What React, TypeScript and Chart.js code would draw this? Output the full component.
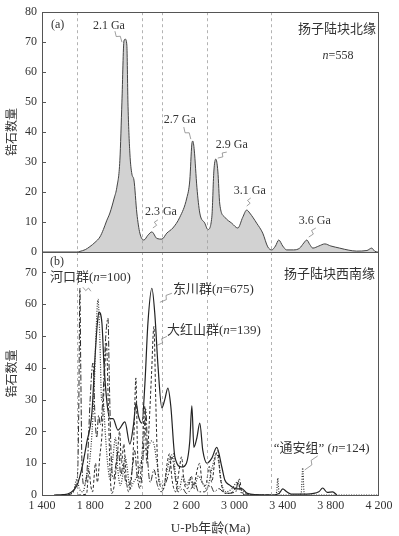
import React, { useEffect, useRef } from 'react';
import { Chart, registerables } from 'chart.js';

Chart.register(...registerables);

const W = 399;
const H = 536;
const SERIF = '"Liberation Serif", "Noto Sans CJK SC", serif';
const TEXT = '#333';

// ---- axes ----
const X_MIN = 1400;
const X_MAX = 4200;
const X_STEP = 400;
const TOP_Y_MAX = 80;
const BOT_Y_MAX = 76.4;
const Y_STEP = 10;
const GUIDE_AGES = [1690, 2230, 2400, 2770, 3300];

// ---- (a) 扬子陆块北缘, n=558  [age Ma, count] ----
const northMargin: [number, number][] = [
  [1400, 0], [1690, 0], [1715, 0.2], [1760, 0.8], [1798, 1.8], [1840, 3.2], [1881, 5],
  [1910, 7.5], [1937, 10.4], [1964, 13], [2000, 18], [2022, 21.6], [2047, 30.6], [2064, 50],
  [2081, 70.4], [2092, 71], [2105, 69], [2114, 50], [2130, 33], [2147, 26], [2164, 24],
  [2188, 13], [2213, 6.3], [2247, 4], [2280, 5.6], [2313, 6.7], [2355, 4.5], [2396, 4.3],
  [2437, 6.3], [2487, 8], [2545, 11.6], [2603, 18], [2628, 24], [2645, 36], [2653, 37],
  [2665, 34], [2687, 21.6], [2711, 13], [2753, 9.6], [2778, 7.5], [2811, 11.6], [2828, 27],
  [2844, 31], [2861, 27], [2877, 16], [2919, 11.6], [2977, 9.6], [3027, 8], [3068, 11.6],
  [3101, 14], [3126, 13], [3184, 9.6], [3234, 6.3], [3276, 1.7], [3309, 0.7], [3340, 2],
  [3367, 4], [3400, 2], [3433, 0.7], [3490, 0.7], [3541, 1.3], [3575, 3], [3600, 4],
  [3625, 2.5], [3650, 1.3], [3700, 2], [3750, 2.7], [3800, 2], [3873, 1.3], [3950, 0.6],
  [4014, 0.3], [4100, 0.5], [4139, 1.3], [4164, 0.3], [4189, 0], [4200, 0],
];

// ---- (b) 扬子陆块西南缘 ----
const dongchuan: [number, number][] = [
  [1500, 0], [1574, 0.1], [1632, 0.6], [1690, 3], [1732, 8.5], [1773, 16.7], [1815, 26],
  [1840, 43], [1860, 54], [1873, 57.5], [1898, 54], [1915, 41], [1940, 29], [1964, 24],
  [1990, 24], [2031, 20.4], [2089, 23], [2130, 16], [2160, 22], [2182, 29], [2200, 25],
  [2230, 22.6], [2255, 35], [2280, 54], [2313, 65], [2338, 56.6], [2363, 41], [2396, 27.4],
  [2420, 30], [2446, 33.6], [2470, 28], [2504, 12], [2562, 8.8], [2600, 10], [2628, 17],
  [2645, 28], [2662, 15], [2687, 18], [2711, 22.6], [2736, 14], [2770, 10], [2811, 11.6],
  [2852, 15], [2894, 8.8], [2919, 4.7], [2960, 3.1], [3019, 1.9], [3060, 2], [3101, 0.6],
  [3184, 0.1], [3300, 0], [3370, 0.5], [3400, 1.9], [3433, 1], [3470, 0.3], [3600, 0.3],
  [3700, 1], [3732, 2.2], [3770, 0.8], [3815, 1], [3850, 0],
];

const hekou: [number, number][] = [
  [1600, 0], [1650, 0.5], [1680, 3], [1695, 6], [1705, 25], [1715, 65], [1722, 40],
  [1732, 10], [1750, 3], [1775, 8], [1800, 30], [1823, 41.5], [1840, 25], [1855, 18],
  [1870, 25], [1885, 22], [1905, 30], [1930, 50], [1948, 55.6], [1960, 35], [1975, 12],
  [1995, 5], [2015, 10], [2035, 14], [2055, 6], [2075, 10], [2095, 4], [2120, 3],
  [2150, 8], [2170, 14], [2190, 6], [2215, 2], [2240, 12], [2262, 27], [2280, 10],
  [2300, 4], [2330, 8], [2360, 3], [2390, 1], [2430, 4], [2460, 8], [2480, 12], [2505, 6],
  [2530, 1], [2570, 2], [2600, 0.5], [2640, 2], [2670, 4], [2700, 1], [2750, 1], [2800, 3],
  [2830, 1], [2870, 2], [2920, 0.5], [3010, 1], [3030, 4.5], [3050, 1], [3100, 0], [3300, 0],
];

const dahongshan: [number, number][] = [
  [1700, 0], [1770, 0.3], [1790, 8], [1805, 3], [1820, 1], [1845, 10], [1860, 4], [1880, 12],
  [1900, 20], [1920, 38], [1935, 48], [1950, 30], [1965, 8], [1980, 0.5], [2000, 3],
  [2025, 12], [2045, 20], [2060, 10], [2080, 16], [2100, 5], [2120, 1], [2145, 6],
  [2165, 20], [2180, 36.8], [2193, 15], [2210, 4], [2230, 12], [2255, 28], [2270, 10],
  [2290, 22], [2310, 38], [2330, 53], [2345, 30], [2360, 10], [2380, 3], [2410, 2],
  [2440, 10], [2460, 13], [2480, 5], [2510, 1], [2540, 8], [2560, 12], [2580, 4], [2610, 2],
  [2640, 6], [2660, 3], [2690, 8], [2710, 10], [2730, 4], [2760, 3], [2790, 9], [2810, 4],
  [2840, 12], [2860, 14], [2880, 6], [2910, 1], [2960, 0.5], [3020, 3], [3040, 5],
  [3060, 1], [3100, 0], [3300, 0],
];

const tongan: [number, number][] = [
  [1600, 0], [1660, 1], [1690, 5], [1710, 2], [1740, 1], [1770, 6], [1800, 12], [1830, 30],
  [1850, 52], [1865, 61.5], [1880, 50], [1895, 30], [1910, 29], [1925, 20], [1945, 10],
  [1965, 5], [1990, 12], [2010, 18], [2030, 8], [2050, 3], [2070, 6], [2090, 12],
  [2110, 8], [2130, 2], [2160, 4], [2190, 6], [2220, 10], [2250, 14], [2280, 15],
  [2310, 17], [2330, 16], [2355, 10], [2380, 4], [2410, 3], [2440, 8], [2470, 12],
  [2490, 13], [2510, 6], [2540, 2], [2570, 6], [2600, 3], [2630, 5], [2660, 2], [2700, 6],
  [2730, 4], [2770, 2], [2810, 8], [2850, 13], [2870, 10], [2890, 4], [2930, 1], [2980, 2],
  [3020, 4], [3050, 2], [3100, 0.5], [3200, 0], [3330, 0], [3350, 1], [3359, 5.3],
  [3368, 1], [3380, 0], [3540, 0], [3555, 1], [3566, 8.5], [3577, 1], [3590, 0], [4200, 0],
];

type Seg = { t: string; it?: boolean };
type Note = {
  segs: Seg[];
  at: [number, number]; // data anchor
  text: [number, number]; // text offset from anchor (px)
  align: CanvasTextAlign;
  lead?: [number, number, number, number]; // leader start/end offsets from anchor
};

const topNotes: Note[] = [
  { segs: [{ t: '2.1 Ga' }], at: [2089, 71], text: [-16, -13], align: 'center', lead: [-10, -8, -3, 3] },
  { segs: [{ t: '2.3 Ga' }], at: [2313, 6.7], text: [9, -20], align: 'center', lead: [6, -12, 1, -4] },
  { segs: [{ t: '2.7 Ga' }], at: [2653, 37], text: [-13, -21], align: 'center', lead: [-9, -14, -2, -2] },
  { segs: [{ t: '2.9 Ga' }], at: [2844, 31], text: [16, -14], align: 'center', lead: [11, -7, 2, -1] },
  { segs: [{ t: '3.1 Ga' }], at: [3101, 14], text: [3, -19], align: 'center', lead: [4, -12, 0, -4] },
  { segs: [{ t: '3.6 Ga' }], at: [3600, 4], text: [8, -19], align: 'center', lead: [9, -12, 2, -3] },
];

const botNotes: Note[] = [
  { segs: [{ t: '河口群(' }, { t: 'n', it: true }, { t: '=100)' }], at: [1715, 65], text: [-30, -11], align: 'left', lead: [11, 3, 3, -1] },
  { segs: [{ t: '东川群(' }, { t: 'n', it: true }, { t: '=675)' }], at: [2313, 65], text: [21, 1], align: 'left', lead: [20, 5, 8, 14] },
  { segs: [{ t: '大红山群(' }, { t: 'n', it: true }, { t: '=139)' }], at: [2330, 53], text: [13, 4.5], align: 'left', lead: [13, 10, 3, 19] },
  { segs: [{ t: '“通安组” (' }, { t: 'n', it: true }, { t: '=124)' }], at: [3566, 8.5], text: [-29, -19], align: 'left', lead: [15, -12, 2, 2] },
];

function fmtThousands(v: number) {
  return String(v).replace(/\B(?=(\d{3})+(?!\d))/g, ' ');
}

function drawSegs(ctx: CanvasRenderingContext2D, segs: Seg[], x: number, y: number, align: CanvasTextAlign, size: number) {
  const fontOf = (s: Seg) => `${s.it ? 'italic ' : ''}${size}px ${SERIF}`;
  let total = 0;
  for (const s of segs) { ctx.font = fontOf(s); total += ctx.measureText(s.t).width; }
  let cx = align === 'center' ? x - total / 2 : align === 'right' ? x - total : x;
  ctx.textBaseline = 'middle';
  ctx.textAlign = 'left';
  ctx.fillStyle = TEXT;
  for (const s of segs) {
    ctx.font = fontOf(s);
    ctx.fillText(s.t, cx, y);
    cx += ctx.measureText(s.t).width;
  }
}

function squiggle(ctx: CanvasRenderingContext2D, x1: number, y1: number, x2: number, y2: number) {
  const dx = x2 - x1, dy = y2 - y1;
  const len = Math.hypot(dx, dy) || 1;
  const nx = -dy / len, ny = dx / len;
  ctx.beginPath();
  ctx.moveTo(x1, y1);
  ctx.lineTo(x1 + dx * 0.4 + nx * 1.8, y1 + dy * 0.4 + ny * 1.8);
  ctx.lineTo(x1 + dx * 0.55 - nx * 1.8, y1 + dy * 0.55 - ny * 1.8);
  ctx.lineTo(x2, y2);
  ctx.stroke();
}

function panelPlugin(kind: 'top' | 'bot') {
  return {
    id: 'panel-' + kind,
    afterDatasetsDraw(chart: any) {
      const { ctx, chartArea } = chart;
      const { left, right, top, bottom } = chartArea;
      const x = chart.scales.x;
      const y = chart.scales.y;
      ctx.save();
      // guide lines
      ctx.strokeStyle = '#a0a0a0';
      ctx.lineWidth = 0.8;
      ctx.setLineDash([3, 3]);
      for (const a of GUIDE_AGES) {
        const px = Math.round(x.getPixelForValue(a)) + 0.5;
        ctx.beginPath();
        ctx.moveTo(px, top);
        ctx.lineTo(px, bottom);
        ctx.stroke();
      }
      ctx.setLineDash([]);
      // frame
      ctx.strokeStyle = '#555';
      ctx.lineWidth = 1;
      ctx.strokeRect(Math.round(left) + 0.5, Math.round(top) + 0.5, Math.round(right - left) - 1, Math.round(bottom - top));
      // inward y ticks
      const ymax = kind === 'top' ? TOP_Y_MAX : BOT_Y_MAX;
      for (let v = Y_STEP; v < ymax; v += Y_STEP) {
        const py = Math.round(y.getPixelForValue(v)) + 0.5;
        ctx.beginPath();
        ctx.moveTo(left, py);
        ctx.lineTo(left + 4, py);
        ctx.stroke();
      }
      // notes
      const notes = kind === 'top' ? topNotes : botNotes;
      const size = kind === 'top' ? 12 : 13;
      ctx.strokeStyle = '#777';
      ctx.lineWidth = 0.7;
      for (const n of notes) {
        const ax = x.getPixelForValue(n.at[0]);
        const ay = y.getPixelForValue(n.at[1]);
        if (n.lead) squiggle(ctx, ax + n.lead[0], ay + n.lead[1], ax + n.lead[2], ay + n.lead[3]);
        drawSegs(ctx, n.segs, ax + n.text[0], ay + n.text[1], n.align, size);
      }
      // static labels
      if (kind === 'top') {
        drawSegs(ctx, [{ t: '(a)' }], left + 9, top + 13, 'left', 12);
        drawSegs(ctx, [{ t: '扬子陆块北缘' }], right - 3, top + 17, 'right', 13);
        drawSegs(ctx, [{ t: 'n', it: true }, { t: '=558' }], right - 41, top + 44, 'center', 12);
      } else {
        drawSegs(ctx, [{ t: '(b)' }], left + 8, top + 10, 'left', 12);
        drawSegs(ctx, [{ t: '扬子陆块西南缘' }], right - 4, top + 23, 'right', 13);
      }
      ctx.restore();
    },
  };
}

function lineDs(data: [number, number][], dash: number[], width: number, color: string) {
  return {
    data: data.map(([a, c]) => ({ x: a, y: c })),
    borderColor: color,
    borderWidth: width,
    borderDash: dash,
    pointRadius: 0,
    fill: false,
    cubicInterpolationMode: 'monotone' as const,
  };
}

function yScale(max: number) {
  return {
    type: 'linear' as const,
    min: 0,
    max,
    afterBuildTicks: (s: any) => {
      s.ticks = s.ticks.filter((t: any) => Math.abs(t.value % Y_STEP) < 1e-6);
    },
    ticks: { stepSize: Y_STEP, color: TEXT, font: { family: SERIF, size: 12 }, padding: 5 },
    grid: { display: false, drawTicks: false },
    border: { display: false },
    title: { display: true, text: '锆石数量', color: TEXT, font: { family: SERIF, size: 12 }, padding: { top: 6, bottom: 0 } },
    afterFit: (s: any) => { s.width = 42; },
  };
}

export default function App() {
  const topRef = useRef<HTMLCanvasElement>(null);
  const botRef = useRef<HTMLCanvasElement>(null);

  useEffect(() => {
    const top = new Chart(topRef.current!, {
      type: 'line',
      data: {
        datasets: [
          {
            data: northMargin.map(([a, c]) => ({ x: a, y: c })),
            borderColor: '#444',
            borderWidth: 1,
            backgroundColor: '#d2d2d2',
            fill: 'origin',
            pointRadius: 0,
            cubicInterpolationMode: 'monotone',
          },
        ],
      },
      options: {
        animation: false,
        responsive: false,
        maintainAspectRatio: false,
        layout: { padding: { top: 11, bottom: H - 252, left: 0, right: 20 } },
        plugins: { legend: { display: false }, tooltip: { enabled: false } },
        scales: {
          x: { type: 'linear', min: X_MIN, max: X_MAX, display: false },
          y: yScale(TOP_Y_MAX) as any,
        },
      },
      plugins: [panelPlugin('top')],
    });

    const bot = new Chart(botRef.current!, {
      type: 'line',
      data: {
        datasets: [
          lineDs(tongan, [1, 1.5], 1.2, '#333'),
          lineDs(dahongshan, [3, 2], 1, '#2a2a2a'),
          lineDs(hekou, [6, 2, 1.5, 2], 1, '#2a2a2a'),
          lineDs(dongchuan, [], 1.2, '#222'),
        ],
      },
      options: {
        animation: false,
        responsive: false,
        maintainAspectRatio: false,
        layout: { padding: { top: 252, bottom: 0, left: 0, right: 20 } },
        plugins: { legend: { display: false }, tooltip: { enabled: false } },
        scales: {
          x: {
            type: 'linear',
            min: X_MIN,
            max: X_MAX,
            ticks: {
              stepSize: X_STEP,
              autoSkip: false,
              maxRotation: 0,
              color: TEXT,
              font: { family: SERIF, size: 12 },
              padding: 4,
              callback: (v: any) => fmtThousands(Number(v)),
            },
            grid: { display: false, drawTicks: false },
            border: { display: false },
            title: { display: true, text: 'U-Pb年龄(Ma)', color: TEXT, font: { family: SERIF, size: 13 }, padding: { top: 3, bottom: 0 } },
            afterFit: (s: any) => { s.height = H - 495; },
          } as any,
          y: yScale(BOT_Y_MAX) as any,
        },
      },
      plugins: [panelPlugin('bot')],
    });

    return () => {
      top.destroy();
      bot.destroy();
    };
  }, []);

  const cv: React.CSSProperties = { position: 'absolute', left: 0, top: 0, width: W, height: H };
  return (
    <div style={{ position: 'fixed', left: 0, top: 0, width: W, height: H, background: '#fff' }}>
      <canvas ref={topRef} width={W} height={H} style={cv} />
      <canvas ref={botRef} width={W} height={H} style={cv} />
    </div>
  );
}
